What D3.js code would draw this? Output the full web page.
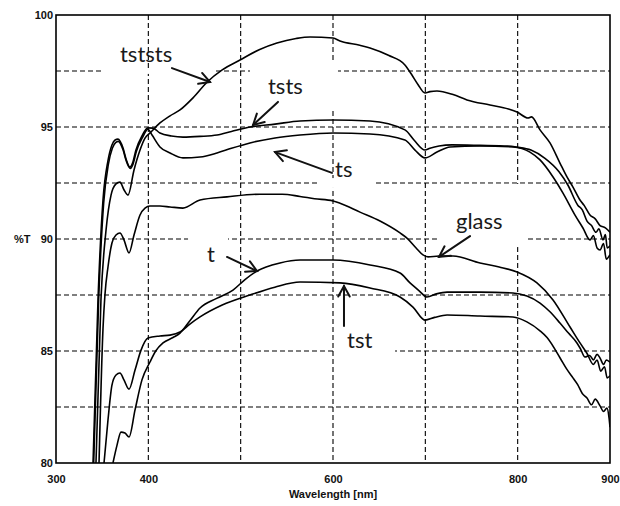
<!DOCTYPE html>
<html>
<head>
<meta charset="utf-8">
<script src="https://cdn.jsdelivr.net/npm/d3@7"></script>
<style>
body { margin: 0; background: #fff; }
svg { display: block; }
</style>
</head>
<body>
<svg id="chart" width="620" height="506"></svg>
<script>
/*
********************************** DATA (wavelength nm, %T) **********************************
*/
var tststs = [[343.3,80],[348.7,87.3],[354.2,90.4],[359.6,91.96],[365,92.46],[369.3,92.54],[373.6,92.2],
  [378,91.96],[384.5,93.08],[391,93.97],[396.4,94.5],[401.8,94.73],[412.6,95.18],[423.5,95.5],[434.3,95.76],
  [448.4,96.3],[463.5,97],[480,97.55],[499.3,97.99],[520,98.45],[539.3,98.75],[560,98.95],[575.1,99.02],
  [600,98.97],[607.6,98.84],[629,98.65],[640.1,98.53],[660,98.2],[677.9,97.77],[685.5,97.32],[692,96.9],
  [699.6,96.52],[705,96.58],[712.6,96.61],[730,96.45],[745.1,96.21],[770,95.98],[790,95.8],[799.3,95.67],
  [811.2,95.4],[815,95.45],[824.2,94.87],[835,94.29],[845.8,93.39],[853.4,92.77],[859.9,92.32],[867.5,91.74],
  [872,91.5],[878.3,91.07],[884,90.9],[889.2,90.6],[895,90.5],[900,90.3]];

var tsts = [[340.1,80],[345.5,87.3],[350.9,91.74],[356.3,93.5],[360.6,94.2],[364,94.42],[367.1,94.46],
  [372.6,94.06],[376,93.55],[380.1,93.21],[383,93.4],[386.6,93.97],[393.1,94.6],[399.6,94.96],[405,94.95],
  [412.6,94.73],[425,94.6],[437.5,94.55],[456,94.58],[474.4,94.64],[490,94.8],[510.1,95],[537.2,95.13],
  [564.3,95.27],[600,95.31],[640.1,95.27],[677.9,94.87],[687.7,94.42],[699.6,93.97],[705,94.05],[714.8,94.15],
  [728.9,94.2],[759.2,94.18],[789.5,94.15],[799.3,94.1],[814.4,93.97],[829.6,93.6],[844.8,93],[854.5,92.4],
  [865.3,91.5],[870,91.3],[875.1,90.8],[880,90.6],[884.8,90.3],[888,90.45],[892.4,89.96],[895,90.2],
  [897,89.6],[900,89.7]];

var ts = [[340.8,80],[346.2,87.3],[351.6,91.6],[356.8,93.35],[361,94.05],[364.5,94.3],[367.5,94.36],
  [372.6,93.98],[376,93.5],[380.5,93.15],[383.5,93.35],[387,93.9],[393.5,94.52],[399.6,94.9],[404,94.64],
  [412.6,94.11],[423.5,93.84],[437.5,93.62],[456,93.66],[474.4,93.84],[490,94.05],[510.1,94.29],[537.2,94.51],
  [564.3,94.64],[600,94.73],[640.1,94.69],[677.9,94.42],[688.8,93.97],[699.6,93.62],[712.6,93.88],[726.7,94.11],
  [759.2,94.15],[794.9,94.11],[813.3,93.88],[824.2,93.53],[838.3,92.77],[849.1,92.05],[862.1,91.07],
  [870.7,90.49],[878.3,89.96],[882,90.15],[886,89.6],[889.2,89.51],[893,89.8],[896,89.1],[900,89.3]];

var glass = [[346.6,80],[350.9,86],[353,87.5],[356.3,88.75],[360.6,89.82],[365,90.18],[369.3,90.27],
  [373.6,89.96],[379.1,89.38],[384.5,90.18],[391,91.07],[396.4,91.38],[401.8,91.47],[412.6,91.47],
  [423.5,91.43],[437.5,91.38],[456,91.74],[485.2,91.88],[520.9,92],[545,92],[564.3,91.9],[580,91.8],
  [600,91.7],[607.6,91.6],[629.2,91.2],[650.9,90.8],[672.6,90.27],[680.1,90.04],[690,89.6],[697.5,89.29],
  [702.9,89.2],[715,89.24],[730,89.24],[759.2,88.93],[780,88.75],[799.3,88.53],[820.9,88.04],[838.3,87.28],
  [856.7,86.07],[867.5,85.36],[875,84.9],[882,84.4],[886,84.6],[890,84.1],[894,84.3],[897,83.8],[900,83.9]];

var t = [[361.7,80],[366.1,80.8],[370.4,81.38],[374.7,81.34],[379.1,81.16],[385.6,82.37],[393.1,83.71],
  [401.8,84.51],[408,85],[415.9,85.36],[426.7,85.6],[434.3,85.8],[445,86.35],[456,86.92],[474,87.35],
  [491.7,87.72],[505,88.2],[517.7,88.57],[542.6,88.93],[564.3,89.06],[600,89.06],[640.1,88.84],[672.6,88.48],
  [683.4,88.04],[693,87.7],[701.8,87.41],[712,87.55],[723.5,87.63],[759.2,87.63],[794.9,87.59],[810,87.45],
  [824.2,87.14],[835,86.75],[845.8,86.25],[855,85.8],[864.2,85.36],[868,85.1],[872.9,84.73],[878,84.8],
  [882,84.6],[886,84.85],[889.2,84.69],[893,84.4],[896,84.6],[900,84.5]];

var tst = [[352,80],[356.3,81.92],[360.6,83.48],[365,83.93],[369.3,84.02],[373.6,83.71],[379.1,83.3],
  [385.6,84.15],[392.1,85.04],[399.6,85.58],[412.6,85.67],[423.5,85.71],[434.3,85.85],[445,86.2],[456,86.52],
  [480,87.05],[510.1,87.5],[537,87.85],[564.3,88.08],[607.6,88.04],[640.1,87.81],[672.6,87.41],[686.6,86.96],
  [699.6,86.38],[710,86.5],[723.5,86.61],[759.2,86.56],[794.9,86.52],[810,86.3],[824.2,85.9],[831.8,85.6],
  [845.8,84.7],[853,84.2],[859.9,83.8],[865,83.5],[870,83.1],[875.1,82.9],[880,82.6],[884,82.85],
  [889.2,82.55],[893,82.3],[896.7,82.45],[899,82],[900,81.6]];

var series = [tststs, tsts, ts, glass, t, tst];

var xGrid = [400, 500, 600, 700, 800];
var yGrid = [82.5, 85, 87.5, 90, 92.5, 95, 97.5];
var xTickLabels = [300, 400, 600, 800, 900];
var yTickLabels = [80, 85, 90, 95, 100];

// annotations: label text, where it sits, its arrow, and the white box it had in the figure
var notes = [
  {text: "tststs", at: [369.3, 97.9], from: [425.6, 97.63], to: [466.8, 97.01], box: [349.8, 470, 97.63, 97.37]},
  {text: "tsts",   at: [529.6, 96.47], from: [540.4, 96.12], to: [513.4, 95.09], box: [510.1, 605.4, 97.86, 95.76]},
  {text: "ts",     at: [602.2, 92.77], from: [598.9, 92.95], to: [537.2, 93.88], box: [582.7, 645.5, 92.72, 92.28]},
  {text: "glass",  at: [733.2, 90.45], from: [748.4, 90.13], to: [714.8, 89.2],  box: [712.6, 810.1, 92.46, 89.64]},
  {text: "t",      at: [463.5, 88.97], from: [485.2, 89.2],  to: [517.7, 88.57], box: [443, 486.3, 90.31, 88.97]},
  {text: "tst",    at: [615.2, 85.13], from: [611.9, 86.12], to: [611.9, 87.9],  box: [602.2, 667.2, 86.3, 84.69]}
];

/*
********************************** SETUP **********************************
*/
var svg = d3.select("#chart"),
    width = +svg.attr("width"),
    height = +svg.attr("height"),
    margin = {top: 15, right: 10, bottom: 43, left: 56};

var x = d3.scaleLinear().domain([300, 900]).range([margin.left, width - margin.right]);
var y = d3.scaleLinear().domain([80, 100]).range([height - margin.bottom, margin.top]);

svg.append("clipPath").attr("id", "plot")
  .append("rect")
    .attr("x", x(300)).attr("y", y(100))
    .attr("width", x(900) - x(300)).attr("height", y(80) - y(100));

// grid
var grid = svg.append("g").attr("stroke", "#000").attr("stroke-width", 1.1).attr("stroke-dasharray", "5,3");
grid.selectAll(".gx").data(xGrid).enter().append("line")
  .attr("x1", d => x(d)).attr("x2", d => x(d))
  .attr("y1", y(100)).attr("y2", y(80));
grid.selectAll(".gy").data(yGrid).enter().append("line")
  .attr("x1", x(300)).attr("x2", x(900))
  .attr("y1", d => y(d)).attr("y2", d => y(d));

// white label boxes cover the grid
svg.append("g").selectAll("rect").data(notes).enter().append("rect")
  .attr("x", d => x(d.box[0]))
  .attr("y", d => y(d.box[2]))
  .attr("width", d => x(d.box[1]) - x(d.box[0]))
  .attr("height", d => y(d.box[3]) - y(d.box[2]))
  .attr("fill", "#fff");

// curves
var line = d3.line().x(d => x(d[0])).y(d => y(d[1])).curve(d3.curveMonotoneX);
svg.append("g").attr("clip-path", "url(#plot)")
  .selectAll("path").data(series).enter().append("path")
    .attr("d", line)
    .attr("fill", "none")
    .attr("stroke", "#000")
    .attr("stroke-width", 1.6);

// arrows
var arrows = svg.append("g").attr("stroke", "#111").attr("stroke-width", 2).attr("fill", "none")
  .attr("stroke-linecap", "round");
notes.forEach(function (n) {
  var x1 = x(n.from[0]), y1 = y(n.from[1]), x2 = x(n.to[0]), y2 = y(n.to[1]);
  var a = Math.atan2(y2 - y1, x2 - x1), len = 12, spread = 0.5;
  arrows.append("line").attr("x1", x1).attr("y1", y1).attr("x2", x2).attr("y2", y2);
  arrows.append("path").attr("d",
    "M" + (x2 - len * Math.cos(a - spread)) + "," + (y2 - len * Math.sin(a - spread)) +
    "L" + x2 + "," + y2 +
    "L" + (x2 - len * Math.cos(a + spread)) + "," + (y2 - len * Math.sin(a + spread)));
});

// labels
svg.append("g").selectAll("text").data(notes).enter().append("text")
  .attr("x", d => x(d.at[0]))
  .attr("y", d => y(d.at[1]))
  .attr("font-family", "Lato, 'Open Sans', sans-serif")
  .attr("font-size", 22)
  .attr("fill", "#1a1a1a")
  .text(d => d.text);

// axes
var xAxis = svg.append("g")
  .attr("transform", "translate(0," + y(80) + ")")
  .call(d3.axisBottom(x).tickValues(xTickLabels).tickSize(0).tickPadding(12));
var yAxis = svg.append("g")
  .attr("transform", "translate(" + x(300) + ",0)")
  .call(d3.axisLeft(y).tickValues(yTickLabels).tickSize(0).tickPadding(3));
[xAxis, yAxis].forEach(function (ax) {
  ax.select(".domain").remove();
  ax.selectAll("text")
    .attr("font-family", "'Liberation Sans', Arial, sans-serif")
    .attr("font-size", 11)
    .attr("font-weight", "bold")
    .attr("fill", "#111");
});

// frame
svg.append("rect")
  .attr("x", x(300)).attr("y", y(100))
  .attr("width", x(900) - x(300)).attr("height", y(80) - y(100))
  .attr("fill", "none").attr("stroke", "#000").attr("stroke-width", 1.6);

// axis titles
svg.append("text")
  .attr("x", (x(300) + x(900)) / 2).attr("y", height - 8)
  .attr("text-anchor", "middle")
  .attr("font-family", "'Liberation Sans', Arial, sans-serif")
  .attr("font-size", 11).attr("font-weight", "bold").attr("fill", "#111")
  .text("Wavelength [nm]");
svg.append("text")
  .attr("x", 14).attr("y", (y(80) + y(100)) / 2 + 4)
  .attr("font-family", "'Liberation Sans', Arial, sans-serif")
  .attr("font-size", 11).attr("font-weight", "bold").attr("fill", "#111")
  .text("%T");
</script>
</body>
</html>
